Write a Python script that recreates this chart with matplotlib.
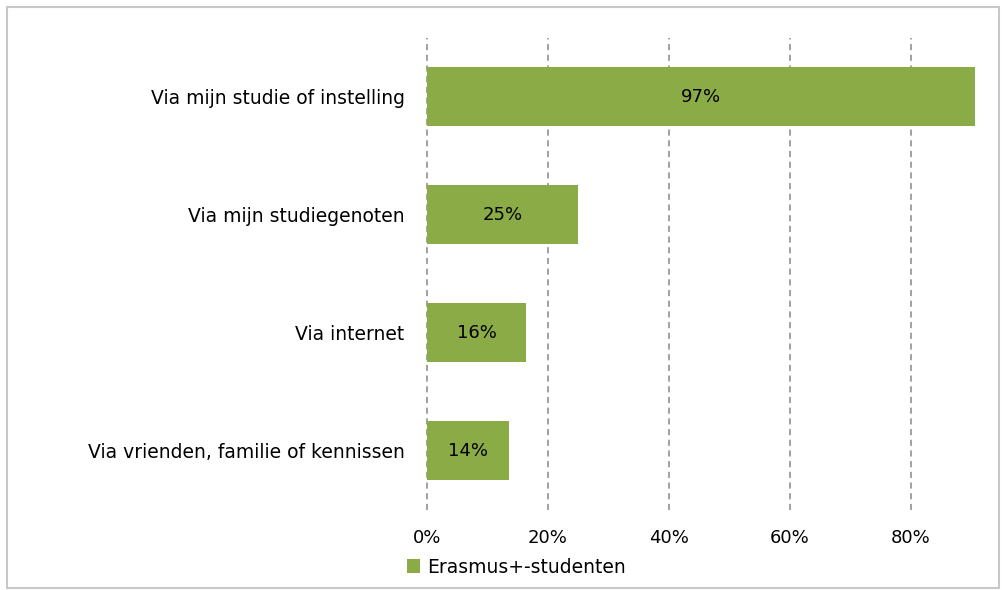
import matplotlib
import matplotlib.pyplot as plt
from matplotlib.patches import Rectangle
from matplotlib.ticker import FuncFormatter

# data
categories = ['Via mijn studie of instelling',
              'Via mijn studiegenoten',
              'Via internet',
              'Via vrienden, familie of kennissen']
values = [97, 25, 16.4, 13.5]
value_labels = ['97%', '25%', '16%', '14%']
series_name = 'Erasmus+-studenten'
xticks = [0, 20, 40, 60, 80]

bar_color = '#8bab47'

fig = plt.figure(figsize=(10.02, 5.9), dpi=100)
ax = fig.add_axes([0.426, 0.1356, 0.547, 0.8])

ypos = list(range(len(categories)))
bars = ax.barh(ypos, values, height=0.5, color=bar_color, label=series_name, zorder=2)

for y, v, lab in zip(ypos, values, value_labels):
    xc = min(v, 90.6) / 2
    ax.text(xc, y, lab, ha='center', va='center', fontsize=13, color='black', zorder=3)

ax.set_xlim(0, 90.6)
ax.set_ylim(len(categories) - 0.5, -0.5)
ax.set_yticks(ypos)
ax.set_yticklabels(categories, fontsize=13.5)
ax.set_xticks(xticks)
ax.xaxis.set_major_formatter(FuncFormatter(lambda x, p: '%d%%' % x))
ax.tick_params(axis='x', labelsize=13, length=0, pad=14)
ax.tick_params(axis='y', length=0, pad=16)
for xt in xticks:
    ax.axvline(xt, linestyle=(0, (4, 3)), color='#888888', linewidth=1.1, zorder=0, clip_on=False)
for s in ax.spines.values():
    s.set_visible(False)

ax.legend(loc='upper left', bbox_to_anchor=(-0.05, -0.085), frameon=False,
          fontsize=13.5, handlelength=0.7, handleheight=0.7, handletextpad=0.4,
          borderaxespad=0)

# outer frame
fig.patches.append(Rectangle((0.007, 0.003), 0.99, 0.985, transform=fig.transFigure,
                             fill=False, edgecolor='#c8c8c8', linewidth=1.5))

fig.savefig('out.png', dpi=100)
